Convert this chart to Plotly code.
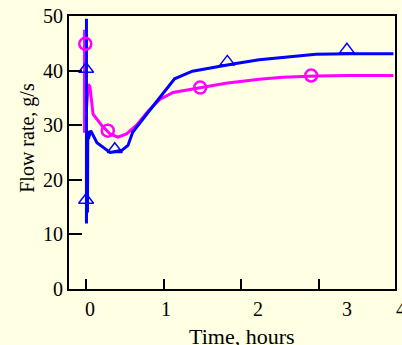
import plotly.graph_objects as go

# Blue series (line)
blue_t = [0.005, 0.005, 0.012, 0.018, 0.022, 0.03, 0.06, 0.14, 0.31, 0.46, 0.54, 0.60, 0.78, 0.95, 1.14, 1.37, 1.59, 1.89, 2.23, 2.53, 2.96, 3.38, 3.96]
blue_v = [49.5, 12.0, 28.5, 14.0, 29.0, 27.5, 29.0, 26.8, 25.0, 25.4, 26.3, 28.7, 32.0, 35.0, 38.5, 39.9, 40.5, 41.2, 42.0, 42.4, 43.0, 43.1, 43.1]
# Blue markers
blue_mt = [0.0, 0.0, 0.37, 1.82, 3.36]
blue_mv = [40.3, 16.3, 25.6, 41.6, 43.8]

# Magenta series (line)
mag_t = [-0.02, -0.02, 0.03, 0.05, 0.09, 0.20, 0.31, 0.41, 0.52, 0.65, 0.80, 0.95, 1.12, 1.37, 1.55, 1.80, 2.23, 2.53, 2.96, 3.38, 3.96]
mag_v = [47.5, 28.6, 37.5, 37.1, 32.0, 30.0, 28.4, 27.8, 28.4, 30.0, 32.6, 34.7, 36.0, 36.6, 37.1, 37.7, 38.4, 38.8, 39.0, 39.1, 39.1]
# Magenta markers
mag_mt = [-0.01, 0.28, 1.47, 2.90]
mag_mv = [44.9, 29.0, 36.9, 39.1]

# Axis ticks and labels
x_ticks = [0, 1, 2, 3]
x_label_pos = [0.05, 1.03, 2.22, 3.36, 4.06]
x_label_text = ["0", "1", "2", "3", "4"]
y_ticks = [0, 10, 20, 30, 40, 50]

X_RANGE = [-0.22, 3.98]
BLUE = "#0000FF"
MAG = "#FF00FF"
BG = "#FFFFE4"
FONT = "Liberation Serif"

fig = go.Figure()
fig.add_trace(go.Scatter(x=mag_t, y=mag_v, mode="lines",
                         line=dict(color=MAG, width=3), showlegend=False))
fig.add_trace(go.Scatter(x=blue_t, y=blue_v, mode="lines",
                         line=dict(color=BLUE, width=3), showlegend=False))
fig.add_trace(go.Scatter(x=mag_mt, y=mag_mv, mode="markers",
                         marker=dict(symbol="circle-open", size=12, color=MAG,
                                     line=dict(width=2.5, color=MAG)),
                         showlegend=False))
fig.add_trace(go.Scatter(x=blue_mt, y=blue_mv, mode="markers",
                         marker=dict(symbol="triangle-up-open", size=13, color=BLUE,
                                     line=dict(width=1.5, color=BLUE)),
                         showlegend=False))

span = X_RANGE[1] - X_RANGE[0]
for xp, txt in zip(x_label_pos, x_label_text):
    fig.add_annotation(x=(xp - X_RANGE[0]) / span, y=-0.075, xref="paper", yref="paper",
                       text=txt, showarrow=False,
                       font=dict(family=FONT, size=20, color="black"),
                       xanchor="center", yanchor="middle")

fig.add_annotation(x=0.53, y=-0.175, xref="paper", yref="paper", text="Time, hours",
                   showarrow=False, font=dict(family=FONT, size=22, color="black"),
                   xanchor="center", yanchor="middle")
fig.add_annotation(x=-0.128, y=0.555, xref="paper", yref="paper", text="Flow rate, g/s",
                   textangle=-90, showarrow=False,
                   font=dict(family=FONT, size=20, color="black"),
                   xanchor="center", yanchor="middle")

fig.update_xaxes(range=X_RANGE, tickvals=x_ticks, showticklabels=False,
                 ticks="inside", ticklen=10, tickwidth=2, tickcolor="black",
                 showline=True, linecolor="black", linewidth=2, mirror=True,
                 showgrid=False, zeroline=False)
fig.update_yaxes(range=[0, 50], tickvals=y_ticks, ticks="inside", ticklen=13,
                 tickwidth=2, tickcolor="black",
                 showline=True, linecolor="black", linewidth=2, mirror=True,
                 showgrid=False, zeroline=False,
                 tickfont=dict(family=FONT, size=20, color="black"))

fig.update_layout(width=402, height=345,
                  margin=dict(l=69, r=5, t=14, b=56),
                  paper_bgcolor=BG, plot_bgcolor=BG)

fig.write_html("out.html")
